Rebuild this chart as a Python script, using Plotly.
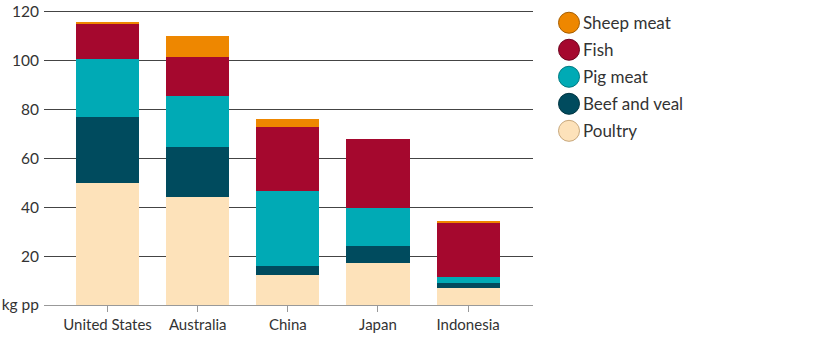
import plotly.graph_objects as go

countries = ["United States", "Australia", "China", "Japan", "Indonesia"]
poultry = [50, 44, 12.2, 17.2, 7.1]
beef = [26.8, 20.8, 3.9, 7.0, 1.8]
pig = [24.0, 20.9, 30.7, 15.6, 2.5]
fish = [14.5, 15.8, 25.9, 28.1, 22.3]
sheep = [0.5, 8.5, 3.2, 0.0, 0.3]

series_names = ["Poultry", "Beef and veal", "Pig meat", "Fish", "Sheep meat"]
series_values = [poultry, beef, pig, fish, sheep]
colors = ["#FDE2BA", "#004B5E", "#00AAB5", "#A5082E", "#EE8700"]
outline = ["#c8a87c", "#003542", "#007a82", "#6e0520", "#a85f00"]

yticks = [0, 20, 40, 60, 80, 100, 120]
yticktext = ["kg pp", "20", "40", "60", "80", "100", "120"]

FONT = "Lato"
fig = go.Figure()
for name, vals, c in zip(series_names, series_values, colors):
    fig.add_trace(go.Bar(x=countries, y=vals, name=name, marker=dict(color=c, line=dict(width=0)),
                         width=0.7, showlegend=False))

YMAX = 121.5
TOP, BOT, L, R = 8.3, 46, 44, 283
fig.update_layout(
    barmode="stack",
    width=816, height=351,
    margin=dict(l=L, r=R, t=TOP, b=BOT, autoexpand=False),
    plot_bgcolor="white", paper_bgcolor="white",
    font=dict(family=FONT, size=15, color="#333"),
    showlegend=False,
    xaxis=dict(range=[-0.705, 4.72], showline=True, linecolor="#999", linewidth=1, automargin=False,
               ticks="outside", ticklen=6, tickcolor="#999", tickfont=dict(size=15, color="#333")),
    yaxis=dict(range=[0, YMAX], tickvals=yticks, ticktext=yticktext, showgrid=True, automargin=False,
               gridcolor="#444", gridwidth=1, zeroline=False, ticks="", ticklabelstandoff=4,
               tickfont=dict(size=15.5, color="#333")),
)

# custom legend with circles (top item = Sheep meat)
legend_y0 = 23
spacing = 27
plot_w = 816 - L - R
plot_h = 351 - TOP - BOT
for i, idx in enumerate(reversed(range(len(series_names)))):
    ypix = legend_y0 + i * spacing
    yp = 1 - (ypix - TOP) / plot_h
    xc = (569 - L) / plot_w
    fig.add_shape(type="circle", xref="paper", yref="paper", xsizemode="pixel", ysizemode="pixel",
                  xanchor=xc, yanchor=yp, x0=-10.5, x1=10.5, y0=-10.5, y1=10.5,
                  fillcolor=colors[idx], line=dict(color=outline[idx], width=1))
    fig.add_annotation(xref="paper", yref="paper", x=(581 - L) / plot_w, y=yp, text=series_names[idx],
                       showarrow=False, xanchor="left", yanchor="middle",
                       font=dict(family=FONT, size=17, color="#333"))

fig.write_html("out.html")
